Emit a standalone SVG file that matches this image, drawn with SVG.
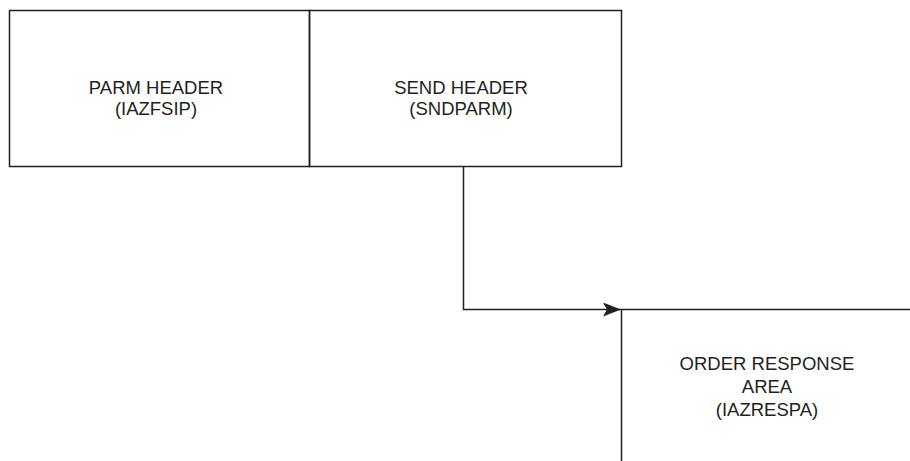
<svg xmlns="http://www.w3.org/2000/svg" width="910" height="461" viewBox="0 0 910 461">
<defs>
<style>
.box{fill:none;stroke:#231f20;stroke-width:1.5}
.lbl{font-family:"Liberation Sans",Arial,sans-serif;font-size:18.5px;fill:#231f20;text-anchor:middle}
.conn{fill:none;stroke:#231f20;stroke-width:1.5}
</style>
<marker id="arr" markerWidth="18" markerHeight="14" refX="18" refY="7" orient="auto" markerUnits="userSpaceOnUse">
<path d="M0,0 L18,7 L0,14 L4,7 Z" fill="#231f20"/>
</marker>
</defs>
<rect width="910" height="461" fill="#fff"/>
<g id="parm-header">
<rect class="box" x="9.5" y="10.5" width="300" height="156"/>
<text class="lbl" x="156" y="94">PARM HEADER</text>
<text class="lbl" x="156" y="115">(IAZFSIP)</text>
</g>
<g id="send-header">
<rect class="box" x="309.5" y="10.5" width="312" height="156"/>
<text class="lbl" x="461" y="94">SEND HEADER</text>
<text class="lbl" x="461" y="115">(SNDPARM)</text>
</g>
<g id="order-response">
<path class="box" d="M910,309.5 H621.5 V461"/>
<text class="lbl" x="767" y="370">ORDER RESPONSE</text>
<text class="lbl" x="767" y="393">AREA</text>
<text class="lbl" x="767" y="416">(IAZRESPA)</text>
</g>
<g id="connectors">
<path class="conn" d="M463.5,166.5 V309.5 H621" marker-end="url(#arr)"/>
</g>
</svg>
